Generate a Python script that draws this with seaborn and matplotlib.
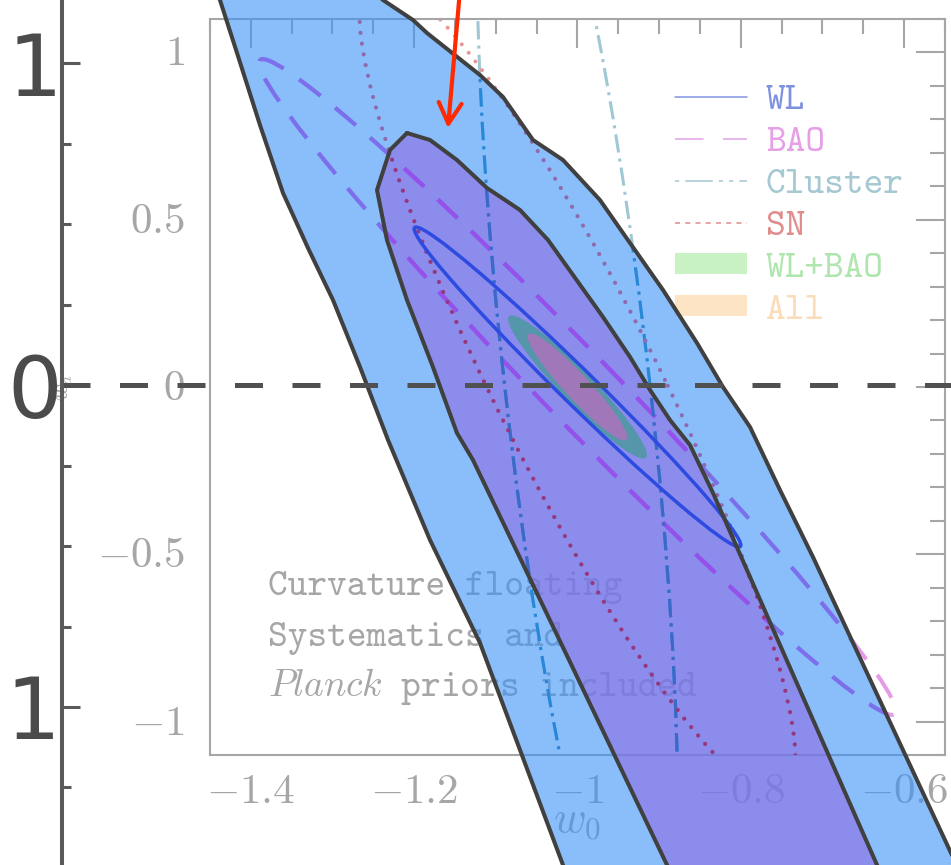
import numpy as np
import matplotlib
matplotlib.use("Agg")
import matplotlib.pyplot as plt
import seaborn as sns
from matplotlib.lines import Line2D
from matplotlib.patches import Patch, Ellipse, Polygon
from matplotlib.ticker import MultipleLocator

# ---- data -------------------------------------------------------------
# outer panel: 2-sigma band (light blue) and 1-sigma region (purple), w0/wa vertices
band2_w0 = [-1.4561, -1.4378, -1.4169, -1.3888, -1.3606, -1.3300, -1.2994, -1.2663,
            -1.2320, -1.1806, -1.1194, -1.0704, -1.0178, -0.9908, -0.4949, -0.5427,
            -0.7117, -0.7521, -0.7888, -0.8219, -0.8537, -0.8953, -0.9443, -0.9725,
            -1.0178, -1.0545, -1.0912, -1.1194, -1.1843, -1.2014, -1.2382, -1.2725]
band2_wa = [1.2733, 1.1957, 1.0311, 0.8075, 0.5963, 0.4255, 0.2640, 0.0559,
            -0.1708, -0.4814, -0.8012, -1.1335, -1.4907, -1.6770, -1.7081, -1.4534,
            -0.5342, -0.3261, -0.1304, -0.0062, 0.1304, 0.2950, 0.4720, 0.5745,
            0.6988, 0.7609, 0.8944, 0.9627, 1.0932, 1.1335, 1.1957, 1.2733]
band1_w0 = [-1.2088, -1.2296, -1.2455, -1.2333, -1.2088, -1.1770, -1.1476, -1.1280,
            -1.0092, -0.8904, -0.8549, -0.6015, -0.6333, -0.7337, -0.8341, -0.8623,
            -0.8868, -0.9112, -0.9357, -0.9688, -1.0055, -1.0361, -1.0704, -1.1108,
            -1.1476, -1.1806]
band1_wa = [0.7826, 0.7298, 0.6056, 0.4503, 0.2640, 0.0559, -0.1491, -0.2329,
            -0.8602, -1.4907, -1.6770, -1.6770, -1.4907, -0.9130, -0.3354, -0.1863,
            -0.1087, -0.0155, 0.0870, 0.2112, 0.3416, 0.4503, 0.5435, 0.6118,
            0.6988, 0.7609]

# inset: forecast ellipses (centre, marginal errors, correlation)
probes = ['WL', 'BAO', 'Cluster', 'SN', 'WL+BAO', 'All']
cen_w0 = [-1.0, -1.0, -1.0, -1.0, -1.0, -1.0]
cen_wa = [0.0, 0.0, 0.0, 0.0, 0.0, 0.0]
sig_w0 = [0.200, 0.390, 0.123, 0.267, 0.085, 0.061]
sig_wa = [0.478, 0.980, 1.857, 1.226, 0.214, 0.160]
rho = [-0.9885, -0.988, -0.690, -0.909, -0.948, -0.942]

x_ticks = [-1.4, -1.2, -1.0, -0.8, -0.6]
x_tick_labels = ['$-1.4$', '$-1.2$', '$-1$', '$-0.8$', '$-0.6$']
y_ticks = [1.0, 0.5, 0.0, -0.5, -1.0]
y_tick_labels = ['$1$', '$0.5$', '$0$', '$-0.5$', '$-1$']
outer_ticks = [1, 0, -1]
outer_tick_labels = ['1', '0', '\u22121']
notes = ['Curvature floating', 'Systematics and', r'$\mathit{Planck}$ priors included']
arrow_tail = (-1.1439, 1.2267)
arrow_head = (-1.1586, 0.7981)

# ---- style ------------------------------------------------------------
sns.set_theme(style='white')
plt.rcParams['font.family'] = ['cmtt10', 'DejaVu Sans']
plt.rcParams['mathtext.fontset'] = 'cm'
plt.rcParams['axes.unicode_minus'] = False

GRAY = '#a6a6a6'
# line colours: on white / on light-blue band / on purple region
col_white = {'BAO': '#e69be6', 'Cluster': '#a0c8d4', 'SN': '#eb9696'}
col_band2 = {'BAO': '#7d6eeb', 'Cluster': '#2887d7', 'SN': '#9169af'}
col_band1 = {'BAO': '#9650eb', 'Cluster': '#3c69c8', 'SN': '#96377d'}
line_style = {'BAO': dict(lw=2.9, linestyle=(0, (6.7, 4.7))),
              'Cluster': dict(lw=2.2, linestyle=(0, (6, 2, 1, 2))),
              'SN': dict(lw=2.9, linestyle=(0, (0.01, 2.7)), capstyle='round')}
leg_line = ['#8296e6', '#e6a0e6', '#a5c8d2', '#e18c8c']
leg_fill = ['#c8f2c3', '#fce4c4']
leg_text = ['#7d91e1', '#e6a0e6', '#a5c8d2', '#e18c8c', '#afe6af', '#fadcb9']

fig = plt.figure(figsize=(9.51, 8.65), dpi=100)

in_rect = [210 / 951, 110 / 865, 735 / 951, 736 / 865]
out_rect = [62 / 951, 0, 889 / 951, 1]
in_xlim, in_ylim = (-1.45, -0.55), (-1.1, 1.1)
out_xlim, out_ylim = (-1.6312, -0.5427), (-1.4907, 1.1957)

ax_in = fig.add_axes(in_rect, zorder=1)
ax_bg = fig.add_axes(out_rect, zorder=2)
ax_ov = fig.add_axes(in_rect, zorder=3)
ax_top = fig.add_axes(out_rect, zorder=4)


def ellipse(i, **kw):
    sx, sy, r = sig_w0[i], sig_wa[i], rho[i]
    cov = np.array([[sx * sx, r * sx * sy], [r * sx * sy, sy * sy]])
    vals, vecs = np.linalg.eigh(cov)
    ang = np.degrees(np.arctan2(vecs[1, 1], vecs[0, 1]))
    return Ellipse((cen_w0[i], cen_wa[i]), 2 * np.sqrt(vals[1]), 2 * np.sqrt(vals[0]),
                   angle=ang, **kw)


# ---- inset panel --------------------------------------------------------
ax_in.set_facecolor('white')
for s in ax_in.spines.values():
    s.set_color(GRAY)
    s.set_linewidth(1.5)
ax_in.set_xlim(in_xlim)
ax_in.set_ylim(in_ylim)
ax_in.set_xticks(x_ticks, x_tick_labels)
ax_in.set_yticks(y_ticks, y_tick_labels)
ax_in.xaxis.set_minor_locator(MultipleLocator(0.05))
ax_in.yaxis.set_minor_locator(MultipleLocator(0.1))
ax_in.tick_params(which='both', direction='in', top=True, right=True, color=GRAY,
                  width=1.5, labelcolor=GRAY, labelsize=31)
ax_in.tick_params(which='major', length=21)
ax_in.tick_params(which='minor', length=10.5)
ax_in.tick_params(axis='x', pad=16)
ax_in.tick_params(axis='y', pad=18)
ax_in.set_xlabel('$w_0$', fontsize=32, color=GRAY)
ax_in.xaxis.set_label_coords(0.5, -0.066)
ax_in.set_ylabel('$w_a$', fontsize=17, color=GRAY)
ax_in.yaxis.set_label_coords(-0.183, 0.5)

for name in ['BAO', 'Cluster', 'SN']:
    ax_in.add_patch(ellipse(probes.index(name), fill=False, ec=col_white[name],
                            **line_style[name]))

for k, txt in enumerate(notes):
    ax_in.text(-1.379, -0.622 - 0.151 * k, txt, fontsize=27, color=GRAY,
               va='baseline', ha='left')

handles = [Line2D([], [], color=leg_line[0], lw=1.1),
           Line2D([], [], color=leg_line[1], lw=1.1, linestyle=(0, (18.7, 12.7))),
           Line2D([], [], color=leg_line[2], lw=1.1,
                  linestyle=(28.7, (18, 4, 2.7, 4, 2.7, 4))),
           Line2D([], [], color=leg_line[3], lw=1.1, linestyle=(0, (3.3, 3.4))),
           Patch(facecolor=leg_fill[0], edgecolor='none'),
           Patch(facecolor=leg_fill[1], edgecolor='none')]
ax_in.legend(handles, probes, loc='upper left',
             bbox_to_anchor=(675 / 951, 1 - 85 / 865), bbox_transform=fig.transFigure,
             frameon=False, borderpad=0, borderaxespad=0, fontsize=27,
             handlelength=1.92, handleheight=0.5, handletextpad=0.5,
             labelspacing=0.24, labelcolor=leg_text)

# ---- outer bands (translucent fills) ----------------------------------
ax_bg.set_axis_off()
ax_bg.set_xlim(out_xlim)
ax_bg.set_ylim(out_ylim)
ax_bg.fill(band2_w0, band2_wa, color='#3a93f7', alpha=0.6, lw=0)
ax_bg.fill(band1_w0, band1_wa, color='#8e6be1', alpha=0.6, lw=0)

# ---- inset curves seen through the bands --------------------------------
ax_ov.set_axis_off()
ax_ov.set_xlim(in_xlim)
ax_ov.set_ylim(in_ylim)
clip2 = Polygon(np.column_stack([band2_w0, band2_wa]), closed=True,
                transform=ax_bg.transData)
clip1 = Polygon(np.column_stack([band1_w0, band1_wa]), closed=True,
                transform=ax_bg.transData)
ax_ov.add_patch(ellipse(probes.index('WL+BAO'), fc='#5596aa', ec='none', zorder=1))
ax_ov.add_patch(ellipse(probes.index('All'), fc='#a078b9', ec='none', zorder=1.1))
for name in ['BAO', 'Cluster', 'SN']:
    for clip, cols, z in [(clip2, col_band2, 2), (clip1, col_band1, 3)]:
        p = ellipse(probes.index(name), fill=False, ec=cols[name], zorder=z,
                    **line_style[name])
        ax_ov.add_patch(p)
        p.set_clip_path(clip)
ax_ov.add_patch(ellipse(probes.index('WL'), fill=False, ec='#2d4be1', lw=2.5, zorder=4))

# ---- outer outlines, w_a = 0 line, arrow, axis --------------------------
ax_top.patch.set_visible(False)
for w0, wa in [(band2_w0, band2_wa), (band1_w0, band1_wa)]:
    sns.lineplot(x=w0 + w0[:1], y=wa + wa[:1], sort=False, estimator=None,
                 color='#404040', lw=2.9, ax=ax_top)
ax_top.axhline(0, color='#505050', lw=3.6, linestyle=(0, (5.6, 5.9)))
ax_top.annotate('', xy=arrow_head, xytext=arrow_tail, annotation_clip=False,
                arrowprops=dict(arrowstyle='->,head_length=0.6,head_width=0.33',
                                color='#ff2a00', lw=3, mutation_scale=25,
                                shrinkA=0, shrinkB=0))
ax_top.set_xlim(out_xlim)
ax_top.set_ylim(out_ylim)
for side in ['top', 'right', 'bottom']:
    ax_top.spines[side].set_visible(False)
ax_top.spines['left'].set_color('#5a5a5a')
ax_top.spines['left'].set_linewidth(2.9)
ax_top.set_xticks([])
ax_top.set_yticks(outer_ticks, outer_tick_labels)
ax_top.yaxis.set_minor_locator(MultipleLocator(0.25))
ax_top.tick_params(axis='y', which='both', direction='in', left=True, color='#5a5a5a',
                   width=2.2, labelsize=62, labelcolor='#4b4b4b', pad=0)
ax_top.tick_params(axis='y', which='major', length=13)
ax_top.tick_params(axis='y', which='minor', length=6.5)
for lbl in ax_top.get_yticklabels():
    lbl.set_fontfamily('DejaVu Sans')
ax_top.set_xlabel('')
ax_top.set_ylabel('')

fig.savefig('out.png', dpi=100)
